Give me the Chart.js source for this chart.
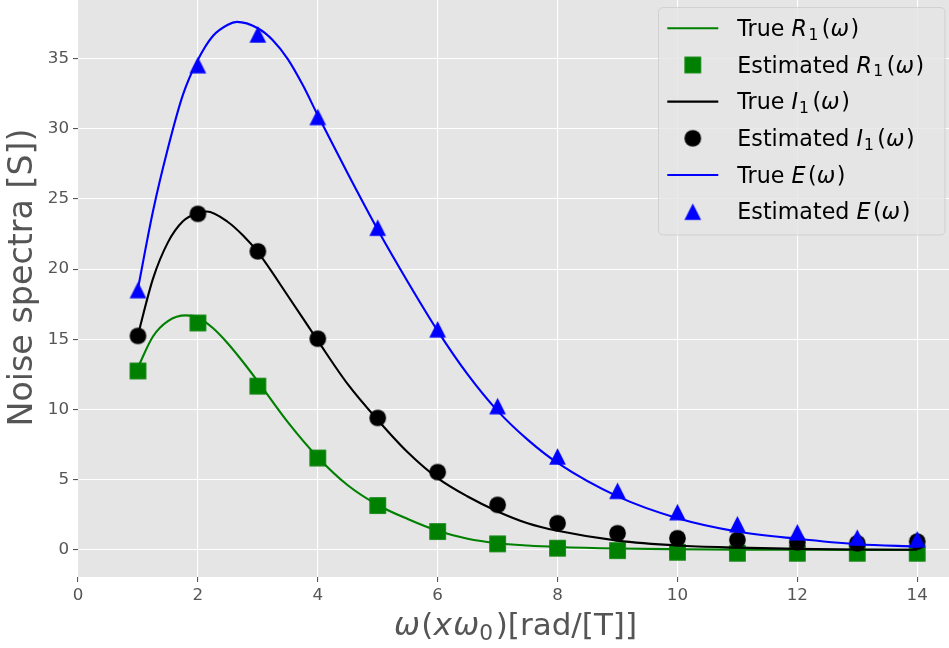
<!DOCTYPE html>
<html><head><meta charset="utf-8">
<script src="https://cdn.jsdelivr.net/npm/chart.js@4.4.0/dist/chart.umd.min.js"></script>
<style>html,body{margin:0;padding:0;background:#fff;}#wrap{width:949px;height:648px;}</style>
</head><body><div id="wrap"><canvas id="c" width="949" height="648"></canvas></div>
<script>
// ---- data ----
const estX = [1,2,3,4,5,6,7,8,9,10,11,12,13,14];
const estR = [12.74,16.16,11.66,6.54,3.16,1.31,0.43,0.12,-0.05,-0.17,-0.24,-0.24,-0.24,-0.24];
const estI = [15.24,23.93,21.26,15.04,9.4,5.54,3.21,1.9,1.19,0.83,0.71,0.54,0.47,0.59];
const estE = [18.5,34.52,36.71,30.83,22.95,15.71,10.24,6.66,4.21,2.69,1.83,1.26,0.88,0.76];

const trueRx = [1,1.25,1.5,1.8,2,2.25,2.5,2.75,3,3.5,4,4.5,5,5.5,6,6.5,7,7.5,8,9,10,11,12,13,14];
const trueRy = [13.0,15.2,16.3,16.7,16.55,15.8,14.7,13.4,12.0,9.1,6.6,4.6,3.2,2.2,1.36,0.79,0.47,0.31,0.21,0.1,0.05,0.02,0.01,0.0,0.0];
const trueIx = [1,1.25,1.5,1.75,2,2.15,2.5,2.75,3,3.5,4,4.5,5,5.5,6,6.5,7,7.5,8,9,10,11,12,13,14];
const trueIy = [15.3,19.3,21.9,23.4,24.0,24.1,23.35,22.4,21.2,18.1,14.9,11.8,9.25,6.95,5.11,3.8,2.74,1.9,1.36,0.66,0.31,0.16,0.07,0.03,0.01];
const trueEx = [1,1.25,1.5,1.75,2,2.25,2.5,2.65,3,3.25,3.5,3.75,4,4.5,5,5.5,6,6.5,7,7.5,8,9,10,11,12,13,14];
const trueEy = [18.6,24.1,28.6,32.4,34.9,36.6,37.4,37.6,37.15,36.3,34.95,33.1,30.95,26.8,22.8,19.1,15.6,12.5,9.9,7.85,6.19,3.81,2.26,1.31,0.79,0.4,0.24];

const xTicks = [0,2,4,6,8,10,12,14];
const yTicks = [0,5,10,15,20,25,30,35];

// ---- helpers ----
const zip = (xs, ys) => xs.map((x, i) => ({x: x, y: ys[i]}));
const FONT = '"DejaVu Sans"';
function makeMarker(shape, color, size) {
  const d = 21, c = document.createElement('canvas');
  c.width = d; c.height = d;
  const g = c.getContext('2d'), h = size / 2, cx = d / 2, cy = d / 2;
  g.fillStyle = color; g.beginPath();
  if (shape === 'square') g.rect(cx - h, cy - h, size, size);
  else if (shape === 'circle') g.arc(cx, cy, h, 0, Math.PI * 2);
  else { g.moveTo(cx, cy - h); g.lineTo(cx + h, cy + h); g.lineTo(cx - h, cy + h); g.closePath(); }
  g.fill();
  return c;
}
const MK = 16.7;
const mSq = makeMarker('square', '#008000', MK);
const mCi = makeMarker('circle', '#000000', MK);
const mTr = makeMarker('triangle', '#0000ff', MK);

// segment: [text, style, extra gap after (px at 22.2px)]
function segFont(st, size) {
  if (st === 'i') return 'italic ' + size + 'px ' + FONT;
  if (st === 'sub') return (size * 0.7) + 'px ' + FONT;
  return size + 'px ' + FONT;
}
function mathWidth(ctx, segs, size) {
  let w = 0;
  segs.forEach(s => { ctx.font = segFont(s[1], size); w += ctx.measureText(s[0]).width + (s[2] || 0) * size / 22.2; });
  return w;
}
function drawMath(ctx, segs, x, y, size) {
  let cx = x;
  segs.forEach(s => {
    ctx.font = segFont(s[1], size);
    const dy = s[1] === 'sub' ? size * 0.17 : 0;
    ctx.fillText(s[0], cx, y + dy);
    cx += ctx.measureText(s[0]).width + (s[2] || 0) * size / 22.2;
  });
}

const legendRows = [
  {kind: 'line', color: '#008000', segs: [['True ', 'n'], ['R', 'i', 1.5], ['1', 'sub', 3.5], ['(', 'n'], ['ω', 'i', 1.5], [')', 'n']]},
  {kind: 'mark', img: mSq, segs: [['Estimated ', 'n'], ['R', 'i', 1.5], ['1', 'sub', 3.5], ['(', 'n'], ['ω', 'i', 1.5], [')', 'n']]},
  {kind: 'line', color: '#000000', segs: [['True ', 'n'], ['I', 'i', 1], ['1', 'sub', 3.5], ['(', 'n'], ['ω', 'i', 1.5], [')', 'n']]},
  {kind: 'mark', img: mCi, segs: [['Estimated ', 'n'], ['I', 'i', 1], ['1', 'sub', 3.5], ['(', 'n'], ['ω', 'i', 1.5], [')', 'n']]},
  {kind: 'line', color: '#0000ff', segs: [['True ', 'n'], ['E', 'i', 2.5], ['(', 'n'], ['ω', 'i', 1.5], [')', 'n']]},
  {kind: 'mark', img: mTr, segs: [['Estimated ', 'n'], ['E', 'i', 2.5], ['(', 'n'], ['ω', 'i', 1.5], [')', 'n']]}
];
const xTitle = [['ω', 'i', 1], ['(', 'n'], ['x', 'i', 1], ['ω', 'i'], ['0', 'sub', 2], [')', 'n'], ['[rad/[T]]', 'n']];
const yTitle = 'Noise spectra [S])';

const bgPlugin = {
  id: 'bg',
  beforeDraw(chart) {
    const c = chart.ctx, a = chart.chartArea;
    c.save();
    c.fillStyle = '#ffffff'; c.fillRect(0, 0, chart.width, chart.height);
    c.fillStyle = '#e5e5e5'; c.fillRect(a.left, a.top, a.right - a.left, a.bottom - a.top);
    c.restore();
  }
};
const overlayPlugin = {
  id: 'overlay',
  afterDraw(chart) {
    const c = chart.ctx;
    c.save();
    c.fillStyle = '#555555';
    c.textBaseline = 'alphabetic';
    // x title fitted to the reference's extent (394..637)
    let ts = 33.3;
    const w0 = mathWidth(c, xTitle, ts);
    ts = ts * 243 / w0;
    const w = mathWidth(c, xTitle, ts);
    c.textAlign = 'left';
    drawMath(c, xTitle, 515.5 - w / 2, 635, ts);
    c.save();
    c.translate(31.7, 277.5);
    c.rotate(-Math.PI / 2);
    c.font = '33.3px ' + FONT;
    c.textAlign = 'center';
    c.fillText(yTitle, 0, 0);
    c.restore();
    // legend
    const L = 658.5, T = 7.5, R = 945, B = 235, r = 5;
    c.beginPath();
    c.moveTo(L + r, T); c.lineTo(R - r, T); c.quadraticCurveTo(R, T, R, T + r);
    c.lineTo(R, B - r); c.quadraticCurveTo(R, B, R - r, B);
    c.lineTo(L + r, B); c.quadraticCurveTo(L, B, L, B - r);
    c.lineTo(L, T + r); c.quadraticCurveTo(L, T, L + r, T); c.closePath();
    c.fillStyle = 'rgba(229,229,229,0.8)'; c.fill();
    c.strokeStyle = 'rgba(204,204,204,0.8)'; c.lineWidth = 1; c.stroke();
    c.textAlign = 'left';
    legendRows.forEach((row, i) => {
      const cy = 28.3 + i * 36.67;
      if (row.kind === 'line') {
        c.strokeStyle = row.color; c.lineWidth = 2.1;
        c.beginPath(); c.moveTo(667.3, cy); c.lineTo(718.3, cy); c.stroke();
      } else {
        c.drawImage(row.img, 692.8 - row.img.width / 2, cy - row.img.height / 2);
      }
      c.fillStyle = '#000000';
      drawMath(c, row.segs, 737.3, cy + 7.7, 22.2);
    });
    c.restore();
  }
};

const lineDs = (label, xs, ys, color, order) => ({
  label: label, data: zip(xs, ys), showLine: true, borderColor: color, backgroundColor: color,
  borderWidth: 2.1, pointRadius: 0, pointHoverRadius: 0, cubicInterpolationMode: 'monotone', order: order
});
const markDs = (label, ys, img, order) => ({
  label: label, data: zip(estX, ys), showLine: false, pointStyle: img, pointRadius: 9, pointHoverRadius: 9, order: order
});

new Chart(document.getElementById('c'), {
  type: 'scatter',
  data: {
    datasets: [
      lineDs('True R1(ω)', trueRx, trueRy, '#008000', 6),
      markDs('Estimated R1(ω)', estR, mSq, 5),
      lineDs('True I1(ω)', trueIx, trueIy, '#000000', 4),
      markDs('Estimated I1(ω)', estI, mCi, 3),
      lineDs('True E(ω)', trueEx, trueEy, '#0000ff', 2),
      markDs('Estimated E(ω)', estE, mTr, 1)
    ]
  },
  options: {
    responsive: false, animation: false, devicePixelRatio: 1,
    layout: {padding: 0, autoPadding: false},
    events: [],
    plugins: {legend: {display: false}, tooltip: {enabled: false}},
    scales: {
      x: {
        type: 'linear', min: 0, max: 14.53,
        afterBuildTicks: s => { s.ticks = xTicks.map(v => ({value: v})); },
        afterFit: s => { s.height = 71; s.paddingLeft = 0; s.paddingRight = 0; },
        grid: {color: '#ffffff', lineWidth: 1.1, tickColor: '#555555', tickLength: 5, tickWidth: 1.1},
        border: {display: false},
        ticks: {color: '#555555', font: {family: 'DejaVu Sans', size: 16.7}, padding: 4, maxRotation: 0, autoSkip: false}
      },
      y: {
        type: 'linear', min: -1.93, max: 39.16,
        afterBuildTicks: s => { s.ticks = yTicks.map(v => ({value: v})); },
        afterFit: s => { s.width = 78; s.paddingTop = 0; s.paddingBottom = 0; },
        grid: {color: '#ffffff', lineWidth: 1.1, tickColor: '#555555', tickLength: 5, tickWidth: 1.1},
        border: {display: false},
        ticks: {color: '#555555', font: {family: 'DejaVu Sans', size: 16.7}, padding: 4, autoSkip: false}
      }
    }
  },
  plugins: [bgPlugin, overlayPlugin]
});
</script>
</body></html>
